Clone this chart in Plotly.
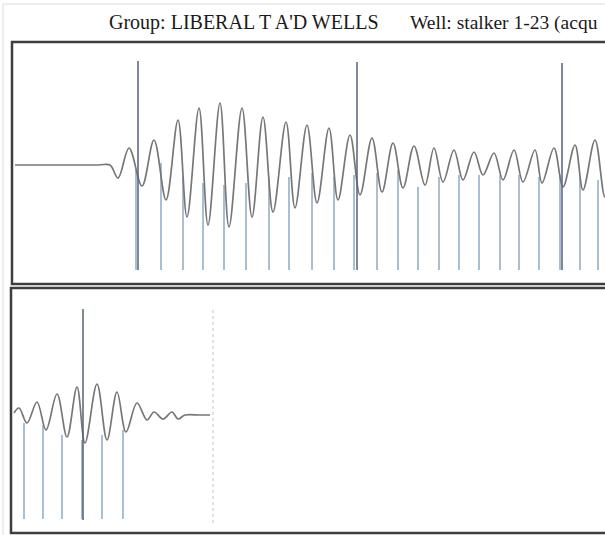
import plotly.graph_objects as go

# ---------------- data ----------------
# Upper trace: extrema of the waveform (time units, amplitude)
top_wave_t = [15, 98, 110, 118, 129, 142, 154, 166, 178, 187, 199, 208, 220, 229, 242, 252,
              263, 273, 286, 295, 307, 317, 329, 338, 350, 360, 372, 382, 393, 403, 414,
              425, 434, 443, 454, 463, 474, 483, 494, 503, 514, 523, 535, 542, 554, 563,
              575, 583, 595, 605, 614]
top_wave_a = [0, 0, 0, -13, 17, -21, 25, -35, 45, -52, 57, -60, 62, -62, 57, -52,
              48, -47, 43, -43, 40, -38, 37, -35, 30, -30, 27, -27, 22, -23, 19,
              -20, 17, -17, 15, -15, 13, -10, 12, -15, 15, -17, 15, -18, 17, -22,
              20, -25, 25, -32, 15]

# Upper trace: marker pulses (light) and collar markers (tall)
top_pulse_t = [136, 161, 183, 203, 224, 246, 269, 289, 312, 334, 354, 377, 398, 418,
               439, 459, 479, 500, 519, 539, 560, 580, 598]
top_pulse_top = [-5, 2, -12, -18, -20, -18, -14, -12, -8, -12, -10, -8, -5, -22,
                 -12, -10, -10, -10, -10, -12, -10, -12, -15]
top_pulse_bottom = -105
top_collar_t = [138, 357, 562]
top_collar_top = [104, 103, 102]
top_collar_bottom = -105

# Lower trace
bot_wave_t = [14, 19, 27, 37, 46, 57, 67, 77, 85, 97, 107, 117, 126, 137, 147, 154,
              163, 172, 178, 185, 200, 210]
bot_wave_a = [2, 7, -8, 13, -15, 21, -22, 28, -28, 31, -25, 23, -17, 12, -5, 3,
              -4, 3, -4, 0, 0, 0]
bot_pulse_t = [24, 43, 62, 82, 102, 123]
bot_pulse_top = [-8, -10, -20, -25, -20, -15]
bot_pulse_bottom = -104
bot_collar_t = [83]
bot_collar_top = [106]
bot_collar_bottom = -105
bot_end_t = 213
bot_end_range = [105, -108]

title_group = "Group: LIBERAL T A'D WELLS"
title_well = "Well: stalker 1-23 (acqu"

W, H = 605, 535


def segs(xs, tops, bottom):
    sx, sy = [], []
    for x, t in zip(xs, tops):
        sx += [x, x, None]
        sy += [t, bottom, None]
    return sx, sy


fig = go.Figure()

PULSE = "#a9bfd3"
COLLAR = "#56627a"
WAVE = "#777777"

# upper panel
px, py = segs(top_pulse_t, top_pulse_top, top_pulse_bottom)
fig.add_trace(go.Scatter(x=px, y=py, mode="lines", line=dict(color=PULSE, width=2),
                         xaxis="x", yaxis="y", hoverinfo="skip"))
fig.add_trace(go.Scatter(x=top_wave_t, y=top_wave_a, mode="lines",
                         line=dict(color=WAVE, width=1.7, shape="spline", smoothing=1.0),
                         xaxis="x", yaxis="y"))
cx, cy = segs(top_collar_t, top_collar_top, top_collar_bottom)
fig.add_trace(go.Scatter(x=cx, y=cy, mode="lines", line=dict(color=COLLAR, width=1.5),
                         xaxis="x", yaxis="y", hoverinfo="skip"))

# lower panel
px, py = segs(bot_pulse_t, bot_pulse_top, bot_pulse_bottom)
fig.add_trace(go.Scatter(x=px, y=py, mode="lines", line=dict(color=PULSE, width=2),
                         xaxis="x2", yaxis="y2", hoverinfo="skip"))
fig.add_trace(go.Scatter(x=bot_wave_t, y=bot_wave_a, mode="lines",
                         line=dict(color=WAVE, width=1.7, shape="spline", smoothing=1.0),
                         xaxis="x2", yaxis="y2"))
cx, cy = segs(bot_collar_t, bot_collar_top, bot_collar_bottom)
fig.add_trace(go.Scatter(x=cx, y=cy, mode="lines", line=dict(color=COLLAR, width=1.5),
                         xaxis="x2", yaxis="y2", hoverinfo="skip"))
fig.add_trace(go.Scatter(x=[bot_end_t, bot_end_t], y=bot_end_range, mode="lines",
                         line=dict(color="#c4c4c4", width=1, dash="dot"),
                         xaxis="x2", yaxis="y2", hoverinfo="skip"))


def py_(p):
    return (H - p) / H


ax = dict(showgrid=False, zeroline=False, showticklabels=False, ticks="",
          showline=False, fixedrange=True)

fig.update_layout(
    width=W, height=H,
    margin=dict(l=0, r=0, t=0, b=0),
    paper_bgcolor="white", plot_bgcolor="rgba(0,0,0,0)",
    showlegend=False,
    xaxis=dict(ax, range=[0, W], domain=[0, 1], anchor="y"),
    yaxis=dict(ax, range=[-119, 123], domain=[py_(284), py_(42)], anchor="x"),
    xaxis2=dict(ax, range=[0, W], domain=[0, 1], anchor="y2"),
    yaxis2=dict(ax, range=[-118, 127], domain=[py_(533), py_(288)], anchor="x2"),
    shapes=[
        dict(type="rect", xref="paper", yref="paper", x0=12 / W, x1=1.05,
             y0=py_(284), y1=py_(42), line=dict(color="#3e3e3e", width=2.5)),
        dict(type="rect", xref="paper", yref="paper", x0=11 / W, x1=1.05,
             y0=py_(533), y1=py_(288), line=dict(color="#3e3e3e", width=2.5)),
        dict(type="line", xref="paper", yref="paper", x0=3 / W, x1=3 / W,
             y0=0, y1=py_(4), line=dict(color="#dcdcdc", width=1)),
        dict(type="line", xref="paper", yref="paper", x0=3 / W, x1=1,
             y0=py_(4), y1=py_(4), line=dict(color="#dcdcdc", width=1)),
    ],
    annotations=[
        dict(text=title_group, xref="paper", yref="paper", x=107 / W, y=py_(23),
             xanchor="left", yanchor="middle", showarrow=False,
             font=dict(family="Liberation Serif", size=20, color="#1a1a1a")),
        dict(text=title_well, xref="paper", yref="paper", x=408 / W, y=py_(23),
             xanchor="left", yanchor="middle", showarrow=False,
             font=dict(family="Liberation Serif", size=19.5, color="#1a1a1a")),
    ],
)

fig.write_html(
    "out.html",
    config={"displayModeBar": False},
    post_script="document.body.style.margin='0';document.body.style.overflow='hidden';",
)
